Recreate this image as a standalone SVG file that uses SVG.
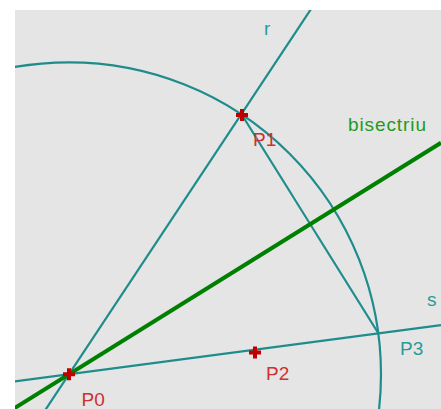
<svg xmlns="http://www.w3.org/2000/svg" width="441" height="409" viewBox="0 0 441 409">
<defs>
<style>
.ln{stroke:#1f8c8c;stroke-width:2.2;fill:none}
.bis{stroke:#008000;stroke-width:4;fill:none}
.pt{stroke:#c00000;stroke-width:4;fill:none}
text{font-family:"Liberation Sans",Arial,sans-serif;font-size:19px}
.lr{fill:#d03030}
.lt{fill:#2a9a9a}
.lg{fill:#229a22}
</style>
<clipPath id="area"><rect x="15" y="10" width="426" height="399"/></clipPath>
</defs>
<rect x="0" y="0" width="441" height="409" fill="#ffffff"/>
<rect x="15" y="10" width="426" height="399" fill="#e5e5e5"/>
<g id="connectors" clip-path="url(#area)">
<circle id="circle" class="ln" cx="69" cy="374.3" r="312"/>
<line id="r" class="ln" x1="40" y1="418" x2="317" y2="0"/>
<line id="s" class="ln" x1="0" y1="383.4" x2="441" y2="325.2"/>
<line id="seg" class="ln" x1="242" y1="115" x2="378.5" y2="333.5"/>
<line id="bisectriu" class="bis" x1="0" y1="417.2" x2="441" y2="142.8"/>
</g>
<g id="P0"><path class="pt" d="M63 374.3h12M69 368.3v12"/><text class="lr" x="81.5" y="406">P0</text></g>
<g id="P1"><path class="pt" d="M236 115h12M242 109v12"/><text class="lr" x="253" y="146">P1</text></g>
<g id="P2"><path class="pt" d="M249 352.5h12M255 346.5v12"/><text class="lr" x="266" y="379.5">P2</text></g>
<g id="P3"><text class="lt" x="400" y="355">P3</text></g>
<g id="label-r"><text class="lt" x="264" y="35">r</text></g>
<g id="label-s"><text class="lt" x="427" y="306">s</text></g>
<g id="label-bis"><text class="lg" x="348" y="131" letter-spacing="0.9">bisectriu</text></g>
</svg>
